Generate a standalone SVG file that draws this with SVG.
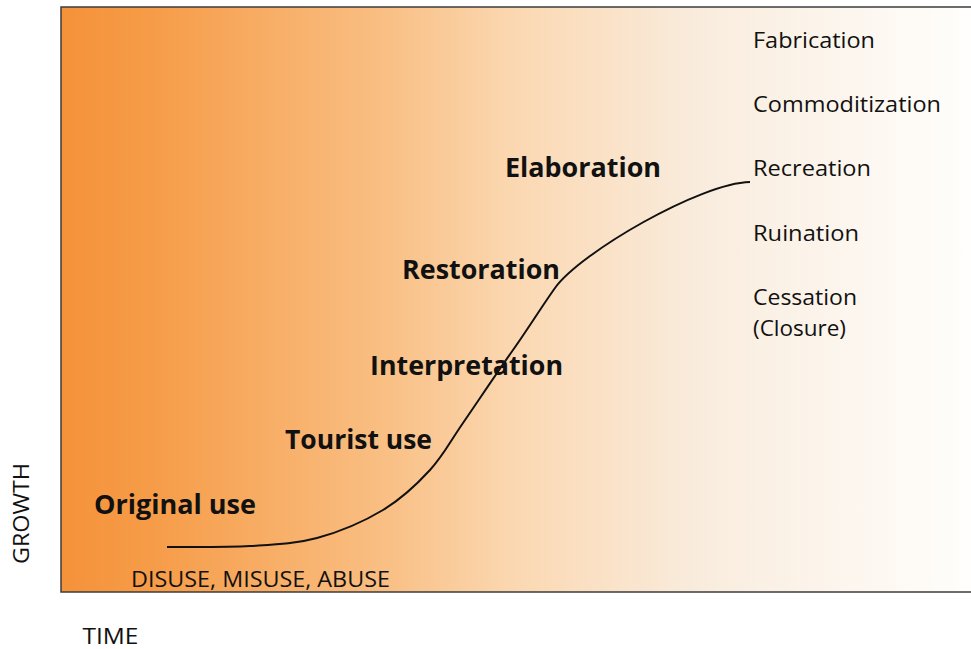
<svg xmlns="http://www.w3.org/2000/svg" width="971" height="649" viewBox="0 0 971 649">
  <defs>
    <linearGradient id="bg" gradientUnits="userSpaceOnUse" x1="61" y1="0" x2="971" y2="0">
      <stop offset="0" stop-color="#F5923A"/>
      <stop offset="0.1" stop-color="#F69C48"/>
      <stop offset="0.35" stop-color="#F9BE82"/>
      <stop offset="0.5" stop-color="#FBD8B2"/>
      <stop offset="0.7" stop-color="#F9ECDD"/>
      <stop offset="1" stop-color="#FFFEFC"/>
    </linearGradient>
    <style>
      .bold { font-family: "Open Sans", "Liberation Sans", sans-serif; font-weight: bold; font-size: 26px; fill: #111; }
      .reg { font-family: "Open Sans", "Liberation Sans", sans-serif; font-size: 21.5px; fill: #111; }
      .curve { fill: none; stroke: #111; stroke-width: 2; }
    </style>
  </defs>
  <rect x="0" y="0" width="971" height="649" fill="#FFFFFF"/>
  <rect id="chart-area" x="61" y="7" width="930" height="585" fill="url(#bg)" stroke="#3C3C3C" stroke-width="1.5"/>

  <g id="connectors">
    <path class="curve" d="M167,547 C180.8,546.8 225,547.5 250,546 C275,544.5 294.8,544 317,538 C339.2,532 364.2,521.3 383,510 C401.8,498.7 416.7,484.5 430,470 C443.3,455.5 449.2,443 463,423 C476.8,403 496.5,373.3 513,350 C527,330.3 543,304.7 555,288 C580,253 700,183 750,182"/>
  </g>

  <g id="original-use"><text class="bold" x="94" y="514" textLength="162" lengthAdjust="spacingAndGlyphs">Original use</text></g>
  <g id="tourist-use"><text class="bold" x="285" y="449" textLength="147" lengthAdjust="spacingAndGlyphs">Tourist use</text></g>
  <g id="interpretation"><text class="bold" x="370" y="375" textLength="193" lengthAdjust="spacingAndGlyphs">Interpretation</text></g>
  <g id="restoration"><text class="bold" x="402" y="279" textLength="158" lengthAdjust="spacingAndGlyphs">Restoration</text></g>
  <g id="elaboration"><text class="bold" x="505" y="177" textLength="156" lengthAdjust="spacingAndGlyphs">Elaboration</text></g>

  <g id="fabrication"><text class="reg" x="753" y="47.5" textLength="122" lengthAdjust="spacingAndGlyphs">Fabrication</text></g>
  <g id="commoditization"><text class="reg" x="753" y="111.5" textLength="188" lengthAdjust="spacingAndGlyphs">Commoditization</text></g>
  <g id="recreation"><text class="reg" x="753" y="175.5" textLength="118" lengthAdjust="spacingAndGlyphs">Recreation</text></g>
  <g id="ruination"><text class="reg" x="753" y="240.5" textLength="106" lengthAdjust="spacingAndGlyphs">Ruination</text></g>
  <g id="cessation">
    <text class="reg" x="753" y="305" textLength="104" lengthAdjust="spacingAndGlyphs">Cessation</text>
    <text class="reg" x="753" y="335.5" textLength="93" lengthAdjust="spacingAndGlyphs">(Closure)</text>
  </g>

  <g id="disuse"><text class="reg" x="131" y="586.5" textLength="259" lengthAdjust="spacingAndGlyphs">DISUSE, MISUSE, ABUSE</text></g>
  <g id="time-axis"><text class="reg" x="82.5" y="644" textLength="56" lengthAdjust="spacingAndGlyphs">TIME</text></g>
  <g id="growth-axis"><text class="reg" text-anchor="middle" transform="translate(28.5,513.5) rotate(-90)" textLength="101" lengthAdjust="spacingAndGlyphs">GROWTH</text></g>
</svg>
